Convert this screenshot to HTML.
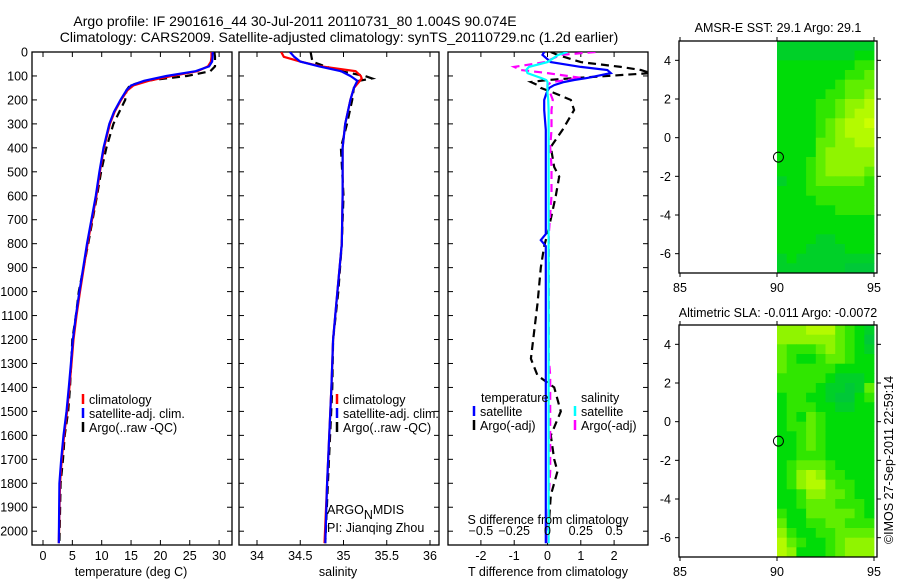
<!DOCTYPE html>
<html><head><meta charset="utf-8">
<style>
html,body{margin:0;padding:0;background:#fff;}
svg{display:block;font-family:"Liberation Sans",sans-serif;}
text{font-size:12.5px;fill:#000;}
</style></head>
<body>
<svg id="fig" width="900" height="580" viewBox="0 0 900 580" xmlns="http://www.w3.org/2000/svg">
<text x="295" y="26" text-anchor="middle" style="font-size:14px">Argo profile: IF 2901616_44 30-Jul-2011 20110731_80 1.004S 90.074E</text>
<text x="339" y="42" text-anchor="middle" style="font-size:14px">Climatology: CARS2009. Satellite-adjusted climatology: synTS_20110729.nc (1.2d earlier)</text>
<text x="778" y="32" text-anchor="middle">AMSR-E SST: 29.1  Argo: 29.1</text>
<text x="778" y="317" text-anchor="middle">Altimetric SLA: -0.011  Argo: -0.0072</text>
<text transform="translate(893,460) rotate(-90)" text-anchor="middle">©IMOS 27-Sep-2011 22:59:14</text>
<g id="layer"></g>
</svg>
<script>
// ---- Profile data ----
const tDepth = [0,20,40,60,80,100,120,140,160,200,250,300,400,500,600,800,1000,1100,1200,1300,1400,1500,1600,1700,1800,2050];
const tClim  = [28.7,28.7,28.6,28.1,26.3,21.9,18.0,15.4,14.4,13.3,12.2,11.4,10.4,9.7,9.1,7.6,6.3,5.7,5.2,4.85,4.5,4.1,3.6,3.2,2.9,2.7];
const tSat   = [28.9,28.9,28.8,28.3,26.0,21.0,17.2,15.0,14.2,13.2,12.1,11.3,10.3,9.6,9.0,7.5,6.2,5.6,5.1,4.75,4.4,4.0,3.5,3.1,2.8,2.7];
const tArgo  = [29.2,29.3,29.3,29.3,28.5,24.5,17.5,14.8,14.2,14.0,13.0,12.0,10.8,9.9,9.2,7.7,6.1,5.6,5.0,4.8,4.6,4.3,3.7,3.4,3.0,2.8];
const sDepth = [0,20,40,60,80,100,110,120,150,200,300,400,600,800,1000,1200,1400,1800,2050];
const sClim  = [34.28,34.31,34.50,34.74,35.14,35.20,35.21,35.19,35.12,35.08,35.02,34.99,34.99,34.98,34.93,34.88,34.86,34.81,34.78];
const sSat   = [34.38,34.43,34.50,34.72,34.97,35.08,35.12,35.16,35.12,35.08,35.02,34.99,34.99,34.98,34.93,34.88,34.86,34.81,34.79];
const sArgo  = [34.62,34.63,34.64,34.79,34.97,35.25,35.33,35.18,35.12,35.10,35.04,34.97,35.00,34.98,34.94,34.88,34.87,34.82,34.79];
// ---- Differences ----
const dDepth = [0,12,42,62,75,88,108,117,125,138,150,171,200,242,325,396,480,520,600,760,785,810,900,1050,1280,1350,1400,1500,1600,1700,1750,1850,2050];
const dTSat  = [-0.1,-0.15,0.1,1.0,1.8,1.9,1.2,0.8,0.5,0.2,0.05,-0.03,-0.1,-0.1,-0.05,-0.05,-0.05,-0.05,-0.05,-0.05,-0.2,-0.05,-0.05,-0.05,-0.05,-0.05,-0.05,-0.05,-0.05,-0.05,-0.05,-0.05,-0.05];
const dTArgo = [0.1,0.3,1.0,2.2,2.8,3.1,0.9,0.0,-0.5,-0.3,-0.2,0.2,0.7,0.8,0.45,0.1,0.2,0.35,0.25,0.0,-0.05,-0.1,-0.2,-0.3,-0.5,-0.3,0.2,0.4,0.1,0.2,0.3,0.1,0.0];
const dSSat  = [0.15,0.08,0.0,-0.14,-0.16,-0.15,-0.05,-0.01,0.0,0.0,0.0,0.0,0.005,0.008,0.008,0.008,0.008,0.008,0.008,0.008,0.008,0.008,0.008,0.008,0.008,0.008,0.008,0.008,0.008,0.008,0.008,0.008,0.008];
const dSArgo = [0.36,0.1,-0.02,-0.25,-0.2,0.0,0.25,0.15,0.03,0.0,0.0,0.02,0.04,0.03,0.03,0.02,0.03,0.03,0.03,0.01,0.01,0.01,0.01,0.01,0.01,0.02,0.02,0.02,0.02,0.02,0.02,0.01,0.0];
// ---- Tick labels ----
const depthTicks = [0,100,200,300,400,500,600,700,800,900,1000,1100,1200,1300,1400,1500,1600,1700,1800,1900,2000];
const tTicks = [0,5,10,15,20,25,30];
const sTicks = [34,34.5,35,35.5,36];
const dTTicks = [-2,-1,0,1,2];
const dSTicks = [-0.5,-0.25,0,0.25,0.5];
const lonTicks = [85,90,95];
const latTicks = [4,2,0,-2,-4,-6];
// ---- Map grids (lat 5 -> -7, 0.5deg rows; lon 90 -> 95, 0.5deg cols), levels 0-9 ----
const sstGrid = ["3333333333","3333333344","4444444455","4444444556","4444445666","4444455667","4444556778","4444556788","4444567889","4444567888","4444667788","4444677777","4445677777","4445677776","3445666665","4445555555","4444555555","4444445555","4444444444","4444444444","4444334444","4443333444","3433333333","3333333222"];
const slaGrid = ["7778886543","7777776542","6555676543","6544566544","6555554444","5555543334","5555433236","4554432245","4555443344","4546544444","4556544444","4456544444","4456544444","4455544444","4566654444","4578755444","4578865544","4457766544","4456665554","5446666654","6445566555","7544556666","8654456777","8744456777"];
const argoLon = 90.074, argoLat = -1.004;

const NS = "http://www.w3.org/2000/svg";
const layer = document.getElementById('layer');
function mk(tag, attrs, parent){ const e=document.createElementNS(NS,tag); for(const k in attrs) e.setAttribute(k,attrs[k]); (parent||layer).appendChild(e); return e; }

const Y0=52, Y1=545;
const yD = d => Y0 + d*0.2396;

function panel(name, x0, x1, xs, ticks, tickFmt, labelTicks, showDepthLabels){
  const g = mk('g',{});
  
  
  const r = mk('rect',{x:x0,y:Y0,width:x1-x0,height:Y1-Y0,fill:'none',stroke:'#000','stroke-width':1.3},g);
  
  
  depthTicks.forEach(d=>{
    const y=yD(d);
    mk('line',{x1:x0,x2:x0+5,y1:y,y2:y,stroke:'#000'},g);
    mk('line',{x1:x1-5,x2:x1,y1:y,y2:y,stroke:'#000'},g);
    if(showDepthLabels){
      const t=mk('text',{x:x0-4,y:y+4.5,'text-anchor':'end'},g);
      t.textContent=d;
      
      
    }
  });
  ticks.forEach(v=>{
    const x=xs(v);
    mk('line',{x1:x,x2:x,y1:Y0,y2:Y0+5,stroke:'#000'},g);
    mk('line',{x1:x,x2:x,y1:Y1-5,y2:Y1,stroke:'#000'},g);
    if(labelTicks){
      const t=mk('text',{x:x,y:Y1+15,'text-anchor':'middle'},g);
      t.textContent=tickFmt(v);
      
      
    }
  });
  return g;
}
function clipFor(id,x0,x1){
  const cp=mk('clipPath',{id:id});
  mk('rect',{x:x0,y:Y0,width:x1-x0,height:Y1-Y0},cp);
}
function line(name, depths, vals, xs, color, dash, width, clip){
  const pts = depths.map((d,i)=>xs(vals[i]).toFixed(1)+','+yD(d).toFixed(1)).join(' ');
  const p = mk('polyline',{points:pts,fill:'none',stroke:color,'stroke-width':width||2.2,'stroke-dasharray':dash||'none','clip-path':'url(#'+clip+')'});
  
  
}
function legendEntry(name,x,y,color,label){
  const g=mk('g',{});
  
  
  mk('line',{x1:x,x2:x,y1:y-10,y2:y,stroke:color,'stroke-width':2.5},g);
  const t=mk('text',{x:x+6,y:y},g); t.textContent=label;
}
function txt(name,x,y,s,anchor){
  const t=mk('text',{x:x,y:y,'text-anchor':anchor||'start'}); t.textContent=s;
  
  
  return t;
}

// Panel 1: temperature
const xT = v => 43 + v*5.87;
clipFor('c1',32,232);
panel('temperature-panel',32,232,xT,tTicks,v=>v,true,true);
line('temp-argo-line',tDepth,tArgo,xT,'#000','8,5',2.2,'c1');
line('temp-clim-line',tDepth,tClim,xT,'#f00',null,2.2,'c1');
line('temp-sat-line',tDepth,tSat,xT,'#00f',null,2.2,'c1');
legendEntry('legend-climatology',83,404,'#f00','climatology');
legendEntry('legend-satellite-adj',83,418,'#00f','satellite-adj. clim.');
legendEntry('legend-argo',83,432,'#000','Argo(..raw -QC)');
txt('temperature-axis-title',131,576,'temperature (deg C)','middle');

// Panel 2: salinity
const xS = v => 257 + (v-34)*86.5;
clipFor('c2',239,439);
panel('salinity-panel',239,439,xS,sTicks,v=>v,true,false);
line('sal-argo-line',sDepth,sArgo,xS,'#000','8,5',2.2,'c2');
line('sal-clim-line',sDepth,sClim,xS,'#f00',null,2.2,'c2');
line('sal-sat-line',sDepth,sSat,xS,'#00f',null,2.2,'c2');
legendEntry('legend-climatology-2',337,404,'#f00','climatology');
legendEntry('legend-satellite-adj-2',337,418,'#00f','satellite-adj. clim.');
legendEntry('legend-argo-2',337,432,'#000','Argo(..raw -QC)');
txt('salinity-axis-title',338,576,'salinity','middle');
const am=txt('argo-mdis-label',327,514,'ARGO');
const sub=mk('tspan',{dy:5,style:'font-size:12.5px'},am); sub.textContent='N';
const rest=mk('tspan',{dy:-5},am); rest.textContent='MDIS';
txt('pi-label',327,532,'PI: Jianqing Zhou');

// Panel 3: differences
const xDT = v => 547.5 + v*33.3;
const xDS = v => 547.5 + v*133.2;
clipFor('c3',448,648);
panel('difference-panel',448,648,xDT,dTTicks,v=>v,true,false);
line('dT-argo-line',dDepth,dTArgo,xDT,'#000','8,5',2.2,'c3');
line('dS-argo-line',dDepth,dSArgo,xDS,'#f0f','8,5',2.2,'c3');
line('dT-sat-line',dDepth,dTSat,xDT,'#00f',null,2.2,'c3');
line('dS-sat-line',dDepth,dSSat,xDS,'#0ff',null,2.2,'c3');
dSTicks.forEach(v=>{ txt('s-diff-tick-label',xDS(v),535,v===0?'0':(v<0?'\u22120'+String(v).slice(2):String(v)),'middle'); });
txt('s-diff-axis-title',548,524,'S difference from climatology','middle');
txt('legend-temperature-header',481,402,'temperature');
txt('legend-salinity-header',581,402,'salinity');
legendEntry('legend-t-satellite',474,416,'#00f','satellite');
legendEntry('legend-t-argo',474,430,'#000','Argo(-adj)');
legendEntry('legend-s-satellite',575,416,'#0ff','satellite');
legendEntry('legend-s-argo',575,430,'#f0f','Argo(-adj)');
txt('t-diff-axis-title',548,576,'T difference from climatology','middle');

// Maps
const levelColors = ['#00a868','#00b850','#00c838','#00d028','#00dc08','#30e600','#60ee00','#90f400','#b4fa00','#ccff00'];
function map(name, grid, top, bottom){
  const x0=679,x1=877;
  const xLon = v => 680 + (v-85)*19.4;
  const yLat = v => top + (5-v)*((bottom-top)/12);
  const g=mk('g',{});
  
  
  grid.forEach((row,ri)=>{
    for(let ci=0;ci<row.length;ci++){
      const lon=90+ci*0.5, lat=5-ri*0.5;
      const x=xLon(lon), y=yLat(lat);
      const c=mk('rect',{x:x.toFixed(1),y:y.toFixed(1),width:(xLon(lon+0.5)-x+0.4).toFixed(1),height:(yLat(lat-0.5)-y+0.4).toFixed(1),fill:levelColors[+row[ci]]},g);
      
      
    }
  });
  const fr=mk('rect',{x:x0,y:top,width:x1-x0,height:bottom-top,fill:'none',stroke:'#000','stroke-width':1.3},g);
  
  
  lonTicks.forEach(v=>{
    const x=xLon(v);
    mk('line',{x1:x,x2:x,y1:top-4,y2:top,stroke:'#000'},g);
    mk('line',{x1:x,x2:x,y1:bottom,y2:bottom+4,stroke:'#000'},g);
    const t=mk('text',{x:x,y:bottom+19,'text-anchor':'middle'},g); t.textContent=v;
    
    
  });
  latTicks.forEach(v=>{
    const y=yLat(v);
    mk('line',{x1:x0-4,x2:x0,y1:y,y2:y,stroke:'#000'},g);
    mk('line',{x1:x1,x2:x1+4,y1:y,y2:y,stroke:'#000'},g);
    const t=mk('text',{x:x0-8,y:y+4.5,'text-anchor':'end'},g); t.textContent=v;
    
    
  });
  const m=mk('circle',{cx:xLon(argoLon),cy:yLat(argoLat),r:5,fill:'none',stroke:'#000','stroke-width':1},g);
  
  
}
map('sst-map', sstGrid, 41, 273);
map('sla-map', slaGrid, 325, 557);
</script>
</body></html>
